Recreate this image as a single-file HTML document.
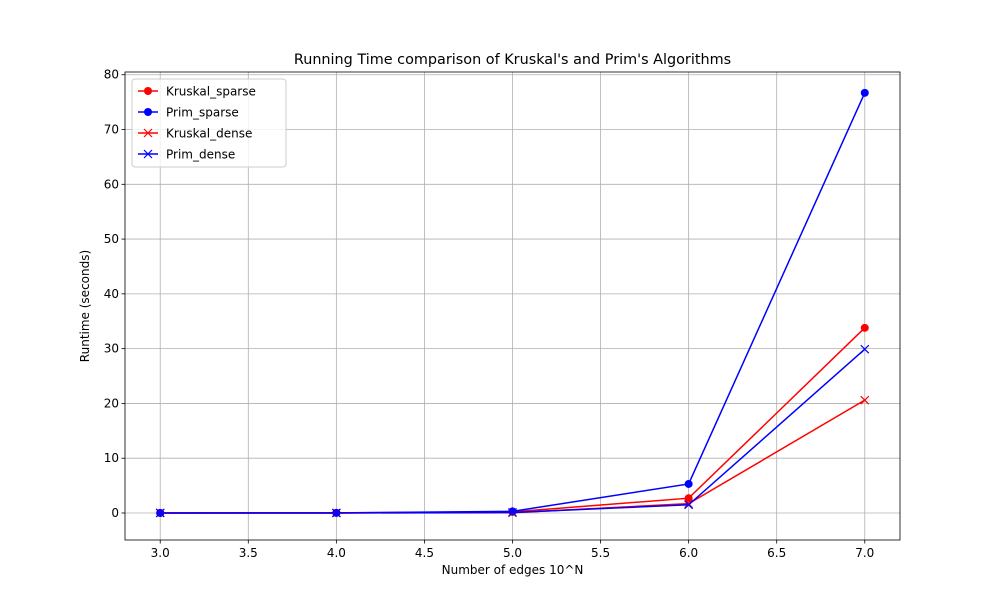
<!DOCTYPE html>
<html><head><meta charset="utf-8"><style>
body{margin:0;background:#fff;font-family:"DejaVu Sans","Liberation Sans",sans-serif}
svg text{font-family:"DejaVu Sans","Liberation Sans",sans-serif;fill:#000}
</style></head><body>
<svg id="chart" width="1000" height="600" xmlns="http://www.w3.org/2000/svg">
<rect width="1000" height="600" fill="#fff"/>
<g id="grid"></g><g id="axes"></g><g id="series"></g><g id="legend"></g>
</svg>
<script>
const xs=[3,4,5,6,7];
const kruskalSparse=[0.01,0.02,0.2,2.7,33.8];
const primSparse=[0.01,0.03,0.3,5.3,76.7];
const kruskalDense=[0.005,0.01,0.05,1.7,20.6];
const primDense=[0.005,0.01,0.1,1.5,29.9];
const xTicks=[3.0,3.5,4.0,4.5,5.0,5.5,6.0,6.5,7.0];
const yTicks=[0,10,20,30,40,50,60,70,80];
const L=125,R=900,T=72,B=540;
const x0=2.8,x1=7.2,y0=-4.93,y1=80.5;
const X=v=>L+(v-x0)/(x1-x0)*(R-L);
const Y=v=>B-(v-y0)/(y1-y0)*(B-T);
const NS='http://www.w3.org/2000/svg';
function mk(t,a,p){const e=document.createElementNS(NS,t);for(const k in a)e.setAttribute(k,a[k]);p.appendChild(e);return e;}
const grid=document.getElementById('grid'),axes=document.getElementById('axes'),ser=document.getElementById('series'),leg=document.getElementById('legend');
xTicks.forEach(t=>{const x=X(t);
const g=mk('line',{x1:x,x2:x,y1:T,y2:B,stroke:'#b0b0b0','stroke-width':0.8},grid);


mk('line',{x1:x,x2:x,y1:B,y2:B+3.5,stroke:'#000','stroke-width':0.8},axes);
const tx=mk('text',{x:x,y:B+17,'text-anchor':'middle','font-size':12},axes);tx.textContent=t.toFixed(1);

});
yTicks.forEach(t=>{const y=Y(t);
const g=mk('line',{x1:L,x2:R,y1:y,y2:y,stroke:'#b0b0b0','stroke-width':0.8},grid);


mk('line',{x1:L-3.5,x2:L,y1:y,y2:y,stroke:'#000','stroke-width':0.8},axes);
const tx=mk('text',{x:L-6,y:y+4,'text-anchor':'end','font-size':12},axes);tx.textContent=t;

});
const fr=mk('rect',{x:L,y:T,width:R-L,height:B-T,fill:'none',stroke:'#000','stroke-width':0.8},axes);


let t=mk('text',{x:(L+R)/2,y:T-8,'text-anchor':'middle','font-size':14.4},axes);t.textContent="Running Time comparison of Kruskal's and Prim's Algorithms";


t=mk('text',{x:(L+R)/2,y:574,'text-anchor':'middle','font-size':12},axes);t.textContent='Number of edges 10^N';


t=mk('text',{x:89,y:(T+B)/2,'text-anchor':'middle','font-size':12,transform:`rotate(-90 89 ${(T+B)/2})`},axes);t.textContent='Runtime (seconds)';


function marker(p,x,y,c,m){if(m==='o')mk('circle',{cx:x,cy:y,r:4,fill:c},p);
else{mk('path',{d:`M${x-4},${y-4}L${x+4},${y+4}M${x-4},${y+4}L${x+4},${y-4}`,stroke:c,'stroke-width':1.2},p);}}
const S=[['Kruskal_sparse',kruskalSparse,'#ff0000','o'],['Prim_sparse',primSparse,'#0000ff','o'],['Kruskal_dense',kruskalDense,'#ff0000','x'],['Prim_dense',primDense,'#0000ff','x']];
S.forEach(([n,d,c,m],i)=>{const g=mk('g',{},ser);


mk('polyline',{points:d.map((v,j)=>X(xs[j])+','+Y(v)).join(' '),fill:'none',stroke:c,'stroke-width':1.5},g);
d.forEach((v,j)=>marker(g,X(xs[j]),Y(v),c,m));
const ly=91+i*21;const lg=mk('g',{},leg);


mk('line',{x1:138,x2:158,y1:ly,y2:ly,stroke:c,'stroke-width':1.5},lg);marker(lg,148,ly,c,m);
const tx=mk('text',{x:166,y:ly+4.5,'font-size':12},lg);tx.textContent=n;});
const lb=mk('rect',{x:132,y:79,width:154,height:88,rx:3,fill:'#fff','fill-opacity':0.8,stroke:'#ccc'},leg);
leg.insertBefore(lb,leg.firstChild);


</script></body></html>
